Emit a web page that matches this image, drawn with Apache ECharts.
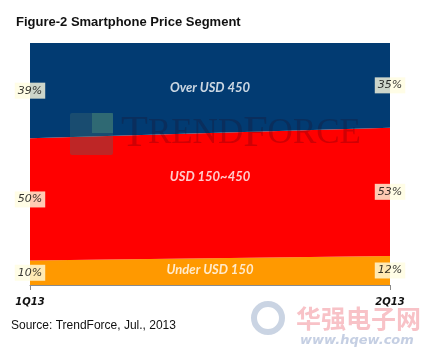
<!DOCTYPE html>
<html><head><meta charset="utf-8">
<script src="https://cdn.jsdelivr.net/npm/echarts@6/dist/echarts.min.js"></script>
<style>html,body{margin:0;padding:0;background:#fff}#c{width:426px;height:352px}</style>
</head><body><div id="c"></div>
<script>
const categories = ['1Q13', '2Q13'];
const under150 = [10, 12];
const mid150to450 = [50, 53];
const over450 = [39, 35];
const segmentNames = ['Under USD 150', 'USD 150~450', 'Over USD 450'];
const titleText = 'Figure-2 Smartphone Price Segment';
const sourceText = 'Source: TrendForce, Jul., 2013';

const raw = [under150, mid150to450, over450];
const totals = categories.map((_, i) => raw.reduce((s, a) => s + a[i], 0));
const shares = raw.map(a => a.map((v, i) => v / totals[i] * 100));
// midpoints of each stacked segment
const mids = shares.map((a, k) => a.map((v, i) => {
  let base = 0; for (let j = 0; j < k; j++) base += shares[j][i];
  return base + v / 2;
}));
const colors = ['#FF9900', '#FF0000', '#023B72'];

const chart = echarts.init(document.getElementById('c'), null, {renderer: 'canvas'});
const series = [];
shares.forEach((a, k) => {
  series.push({
    type: 'line', stack: 'total', data: a, symbol: 'none', smooth: false,
    lineStyle: {width: 0}, areaStyle: {color: colors[k], opacity: 1}, z: 2, silent: true
  });
});
// percentage labels
shares.forEach((a, k) => {
  series.push({
    type: 'scatter', symbolSize: 0, z: 10, silent: true,
    data: mids[k].map((m, i) => [i, m, raw[k][i]]),
    label: {
      show: true, position: 'inside', formatter: p => p.data[2] + '%',
      fontFamily: 'DejaVu Sans', fontStyle: 'italic', fontSize: 11, color: '#000',
      textBorderWidth: 0, backgroundColor: '#FFFDE0', padding: [3, 3, 2, 3]
    }
  });
});
// segment names
const nameOffsets = [[0, -2], [0, -19], [0, 0]];
shares.forEach((a, k) => {
  series.push({
    type: 'scatter', xAxisIndex: 1, symbolSize: 0, z: 10, silent: true,
    data: [[0.5, (mids[k][0] + mids[k][1]) / 2]],
    label: {
      show: true, position: 'inside', formatter: segmentNames[k], offset: nameOffsets[k],
      fontFamily: 'Lato', fontStyle: 'italic', fontWeight: 'bold', fontSize: 13, color: '#fff',
      textBorderWidth: 0
    }
  });
});

chart.setOption({
  animation: false,
  title: {
    text: titleText, left: 11, top: 11,
    textStyle: {fontFamily: 'Liberation Sans', fontWeight: 'bold', fontSize: 13, color: '#111'}
  },
  grid: {left: 30, right: 36, top: 43, bottom: 67},
  xAxis: [{
    type: 'category', data: categories, boundaryGap: false,
    axisLine: {lineStyle: {color: '#8a8a8a', width: 1}},
    axisTick: {show: true, length: 5, lineStyle: {color: '#8a8a8a'}},
    axisLabel: {fontFamily: 'DejaVu Sans', fontStyle: 'italic', fontWeight: 'bold', fontSize: 10, color: '#111', margin: 12}
  }, {
    type: 'value', min: 0, max: 1, show: false
  }],
  yAxis: {type: 'value', min: 0, max: 100, show: false},
  series: series,
  graphic: [
    {type: 'text', left: 11, top: 320, style: {text: sourceText, fontFamily: 'Liberation Sans', fontSize: 12, fill: '#111'}},
    // TrendForce watermark
    {type: 'rect', shape: {x: 70, y: 113, width: 43, height: 42, r: 2}, style: {fill: 'rgba(70,110,110,0.35)'}, z: 5},
    {type: 'rect', shape: {x: 92, y: 113, width: 21, height: 20}, style: {fill: 'rgba(90,160,120,0.35)'}, z: 5},
    {type: 'text', x: 121, y: 156, style: {
      text: '{b|T}{s|REND}{b|F}{s|ORCE}', textVerticalAlign: 'bottom',
      rich: {
        b: {fontFamily: 'Liberation Serif', fontSize: 44, fill: 'rgba(40,0,20,0.22)'},
        s: {fontFamily: 'Liberation Serif', fontSize: 35, fill: 'rgba(40,0,20,0.22)'}
      }}, z: 5},
    // hqew watermark
    {type: 'circle', shape: {cx: 268, cy: 318, r: 14}, style: {fill: 'none', stroke: 'rgba(150,170,200,0.5)', lineWidth: 6}, z: 5},
    {type: 'text', x: 296, y: 306, style: {text: '华强电子网', fontFamily: 'Noto Sans CJK SC', fontWeight: 'bold', fontSize: 25, fill: 'rgba(240,120,130,0.45)'}, z: 5},
    {type: 'text', x: 300, y: 334, style: {text: 'www.hqew.com', fontFamily: 'DejaVu Sans', fontWeight: 'bold', fontStyle: 'italic', fontSize: 13, fill: 'rgba(140,160,200,0.5)'}, z: 5}
  ]
});
</script></body></html>
